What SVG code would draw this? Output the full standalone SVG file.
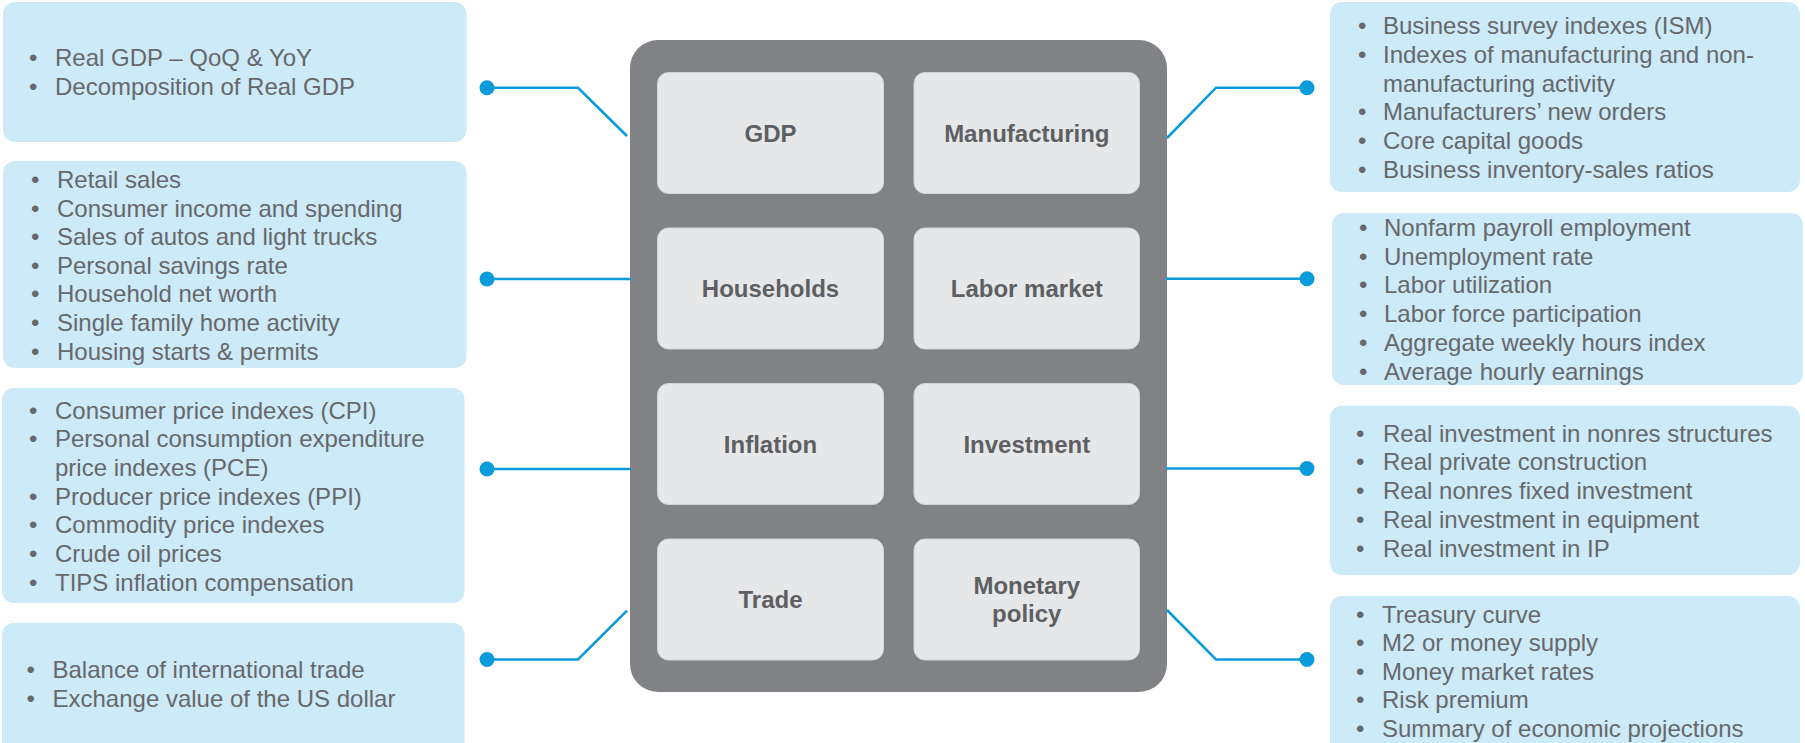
<svg xmlns="http://www.w3.org/2000/svg" width="1805" height="743" viewBox="0 0 1805 743">
  <style>
    .card { fill: #cceaf7; }
    .panel { fill: #808285; }
    .tile { fill: #e6e7e8; stroke: #d2d4d5; stroke-width: 1; }
    .item { font-family: "Liberation Sans", Arial, sans-serif; font-size: 24px; fill: #66686c; }
    .label { font-family: "Liberation Sans", Arial, sans-serif; font-size: 24px; font-weight: bold; fill: #5d5f63; text-anchor: middle; }
    .link { fill: none; stroke: #0a9bdb; stroke-width: 2.6; stroke-linejoin: miter; }
    .dot { fill: #0a9bdb; }
  </style>

  <!-- Central panel with the eight topic tiles -->
  <g id="panel">
    <rect class="panel" x="630" y="40" width="537" height="652" rx="28"/>
  </g>
  <g id="node-gdp">
    <rect class="tile" x="657.5" y="72.5" width="226" height="121" rx="11"/>
    <text class="label" x="770.5" y="141.6">GDP</text>
  </g>
  <g id="node-manufacturing">
    <rect class="tile" x="914" y="72.5" width="225.5" height="121" rx="11"/>
    <text class="label" x="1026.8" y="141.6">Manufacturing</text>
  </g>
  <g id="node-households">
    <rect class="tile" x="657.5" y="228" width="226" height="121" rx="11"/>
    <text class="label" x="770.5" y="297.4">Households</text>
  </g>
  <g id="node-labor">
    <rect class="tile" x="914" y="228" width="225.5" height="121" rx="11"/>
    <text class="label" x="1026.8" y="297.4">Labor market</text>
  </g>
  <g id="node-inflation">
    <rect class="tile" x="657.5" y="383.5" width="226" height="121" rx="11"/>
    <text class="label" x="770.5" y="452.7">Inflation</text>
  </g>
  <g id="node-investment">
    <rect class="tile" x="914" y="383.5" width="225.5" height="121" rx="11"/>
    <text class="label" x="1026.8" y="452.7">Investment</text>
  </g>
  <g id="node-trade">
    <rect class="tile" x="657.5" y="539" width="226" height="121" rx="11"/>
    <text class="label" x="770.5" y="607.9">Trade</text>
  </g>
  <g id="node-monetary">
    <rect class="tile" x="914" y="539" width="225.5" height="121" rx="11"/>
    <text class="label" x="1026.8" y="594.3">Monetary</text>
    <text class="label" x="1026.8" y="622.3">policy</text>
  </g>

  <!-- Indicator cards, left column -->
  <g id="card-gdp">
    <rect class="card" x="3" y="2" width="463.5" height="140" rx="12"/>
    <g class="item">
      <text x="29" y="65.5">•</text><text x="55" y="65.5">Real GDP – QoQ &amp; YoY</text>
      <text x="29" y="94.5">•</text><text x="55" y="94.5">Decomposition of Real GDP</text>
    </g>
  </g>
  <g id="card-households">
    <rect class="card" x="3" y="161" width="463.5" height="207" rx="12"/>
    <g class="item">
      <text x="31" y="188">•</text><text x="57" y="188">Retail sales</text>
      <text x="31" y="216.6">•</text><text x="57" y="216.6">Consumer income and spending</text>
      <text x="31" y="245.2">•</text><text x="57" y="245.2">Sales of autos and light trucks</text>
      <text x="31" y="273.8">•</text><text x="57" y="273.8">Personal savings rate</text>
      <text x="31" y="302.4">•</text><text x="57" y="302.4">Household net worth</text>
      <text x="31" y="331">•</text><text x="57" y="331">Single family home activity</text>
      <text x="31" y="359.6">•</text><text x="57" y="359.6">Housing starts &amp; permits</text>
    </g>
  </g>
  <g id="card-inflation">
    <rect class="card" x="2" y="388" width="462.5" height="215" rx="12"/>
    <g class="item">
      <text x="29" y="418.5">•</text><text x="55" y="418.5">Consumer price indexes (CPI)</text>
      <text x="29" y="447.2">•</text><text x="55" y="447.2">Personal consumption expenditure</text>
      <text x="55" y="475.9">price indexes (PCE)</text>
      <text x="29" y="504.6">•</text><text x="55" y="504.6">Producer price indexes (PPI)</text>
      <text x="29" y="533.3">•</text><text x="55" y="533.3">Commodity price indexes</text>
      <text x="29" y="562">•</text><text x="55" y="562">Crude oil prices</text>
      <text x="29" y="590.7">•</text><text x="55" y="590.7">TIPS inflation compensation</text>
    </g>
  </g>
  <g id="card-trade">
    <rect class="card" x="2" y="622.7" width="462.5" height="140" rx="12"/>
    <g class="item">
      <text x="26.5" y="678.3">•</text><text x="52.5" y="678.3">Balance of international trade</text>
      <text x="26.5" y="706.8">•</text><text x="52.5" y="706.8">Exchange value of the US dollar</text>
    </g>
  </g>

  <!-- Indicator cards, right column -->
  <g id="card-manufacturing">
    <rect class="card" x="1330" y="2" width="470" height="190" rx="12"/>
    <g class="item">
      <text x="1358" y="34.3">•</text><text x="1383" y="34.3">Business survey indexes (ISM)</text>
      <text x="1358" y="63">•</text><text x="1383" y="63">Indexes of manufacturing and non-</text>
      <text x="1383" y="91.7">manufacturing activity</text>
      <text x="1358" y="120.4">•</text><text x="1383" y="120.4">Manufacturers’ new orders</text>
      <text x="1358" y="149.1">•</text><text x="1383" y="149.1">Core capital goods</text>
      <text x="1358" y="177.8">•</text><text x="1383" y="177.8">Business inventory-sales ratios</text>
    </g>
  </g>
  <g id="card-labor">
    <rect class="card" x="1332" y="213" width="471" height="172" rx="12"/>
    <g class="item">
      <text x="1359" y="236">•</text><text x="1384" y="236">Nonfarm payroll employment</text>
      <text x="1359" y="264.7">•</text><text x="1384" y="264.7">Unemployment rate</text>
      <text x="1359" y="293.4">•</text><text x="1384" y="293.4">Labor utilization</text>
      <text x="1359" y="322.1">•</text><text x="1384" y="322.1">Labor force participation</text>
      <text x="1359" y="350.8">•</text><text x="1384" y="350.8">Aggregate weekly hours index</text>
      <text x="1359" y="379.5">•</text><text x="1384" y="379.5">Average hourly earnings</text>
    </g>
  </g>
  <g id="card-investment">
    <rect class="card" x="1330" y="405.7" width="470" height="169.3" rx="12"/>
    <g class="item">
      <text x="1356" y="441.7">•</text><text x="1383" y="441.7">Real investment in nonres structures</text>
      <text x="1356" y="470.4">•</text><text x="1383" y="470.4">Real private construction</text>
      <text x="1356" y="499.1">•</text><text x="1383" y="499.1">Real nonres fixed investment</text>
      <text x="1356" y="527.8">•</text><text x="1383" y="527.8">Real investment in equipment</text>
      <text x="1356" y="556.5">•</text><text x="1383" y="556.5">Real investment in IP</text>
    </g>
  </g>
  <g id="card-monetary">
    <rect class="card" x="1330" y="596" width="470" height="170" rx="12"/>
    <g class="item">
      <text x="1356" y="622.7">•</text><text x="1382" y="622.7">Treasury curve</text>
      <text x="1356" y="651.2">•</text><text x="1382" y="651.2">M2 or money supply</text>
      <text x="1356" y="679.9">•</text><text x="1382" y="679.9">Money market rates</text>
      <text x="1356" y="708.4">•</text><text x="1382" y="708.4">Risk premium</text>
      <text x="1356" y="736.8">•</text><text x="1382" y="736.8">Summary of economic projections</text>
    </g>
  </g>

  <!-- Connectors from the panel to the cards -->
  <g id="connectors">
    <polyline class="link" points="487,87.7 578,87.7 627,136"/>
    <line class="link" x1="487" y1="279" x2="631" y2="279"/>
    <line class="link" x1="487" y1="469" x2="631" y2="469"/>
    <polyline class="link" points="487,659.5 578,659.5 627,610.7"/>
    <polyline class="link" points="1167,138 1216,87.7 1307,87.7"/>
    <line class="link" x1="1166" y1="278.7" x2="1307" y2="278.7"/>
    <line class="link" x1="1166" y1="468.5" x2="1307" y2="468.5"/>
    <polyline class="link" points="1167,610 1216,659.5 1307,659.5"/>
    <circle class="dot" cx="487" cy="87.7" r="7.5"/>
    <circle class="dot" cx="487" cy="279" r="7.5"/>
    <circle class="dot" cx="487" cy="469" r="7.5"/>
    <circle class="dot" cx="487" cy="659.5" r="7.5"/>
    <circle class="dot" cx="1307" cy="87.7" r="7.5"/>
    <circle class="dot" cx="1307" cy="278.7" r="7.5"/>
    <circle class="dot" cx="1307" cy="468.5" r="7.5"/>
    <circle class="dot" cx="1307" cy="659.5" r="7.5"/>
  </g>
</svg>
